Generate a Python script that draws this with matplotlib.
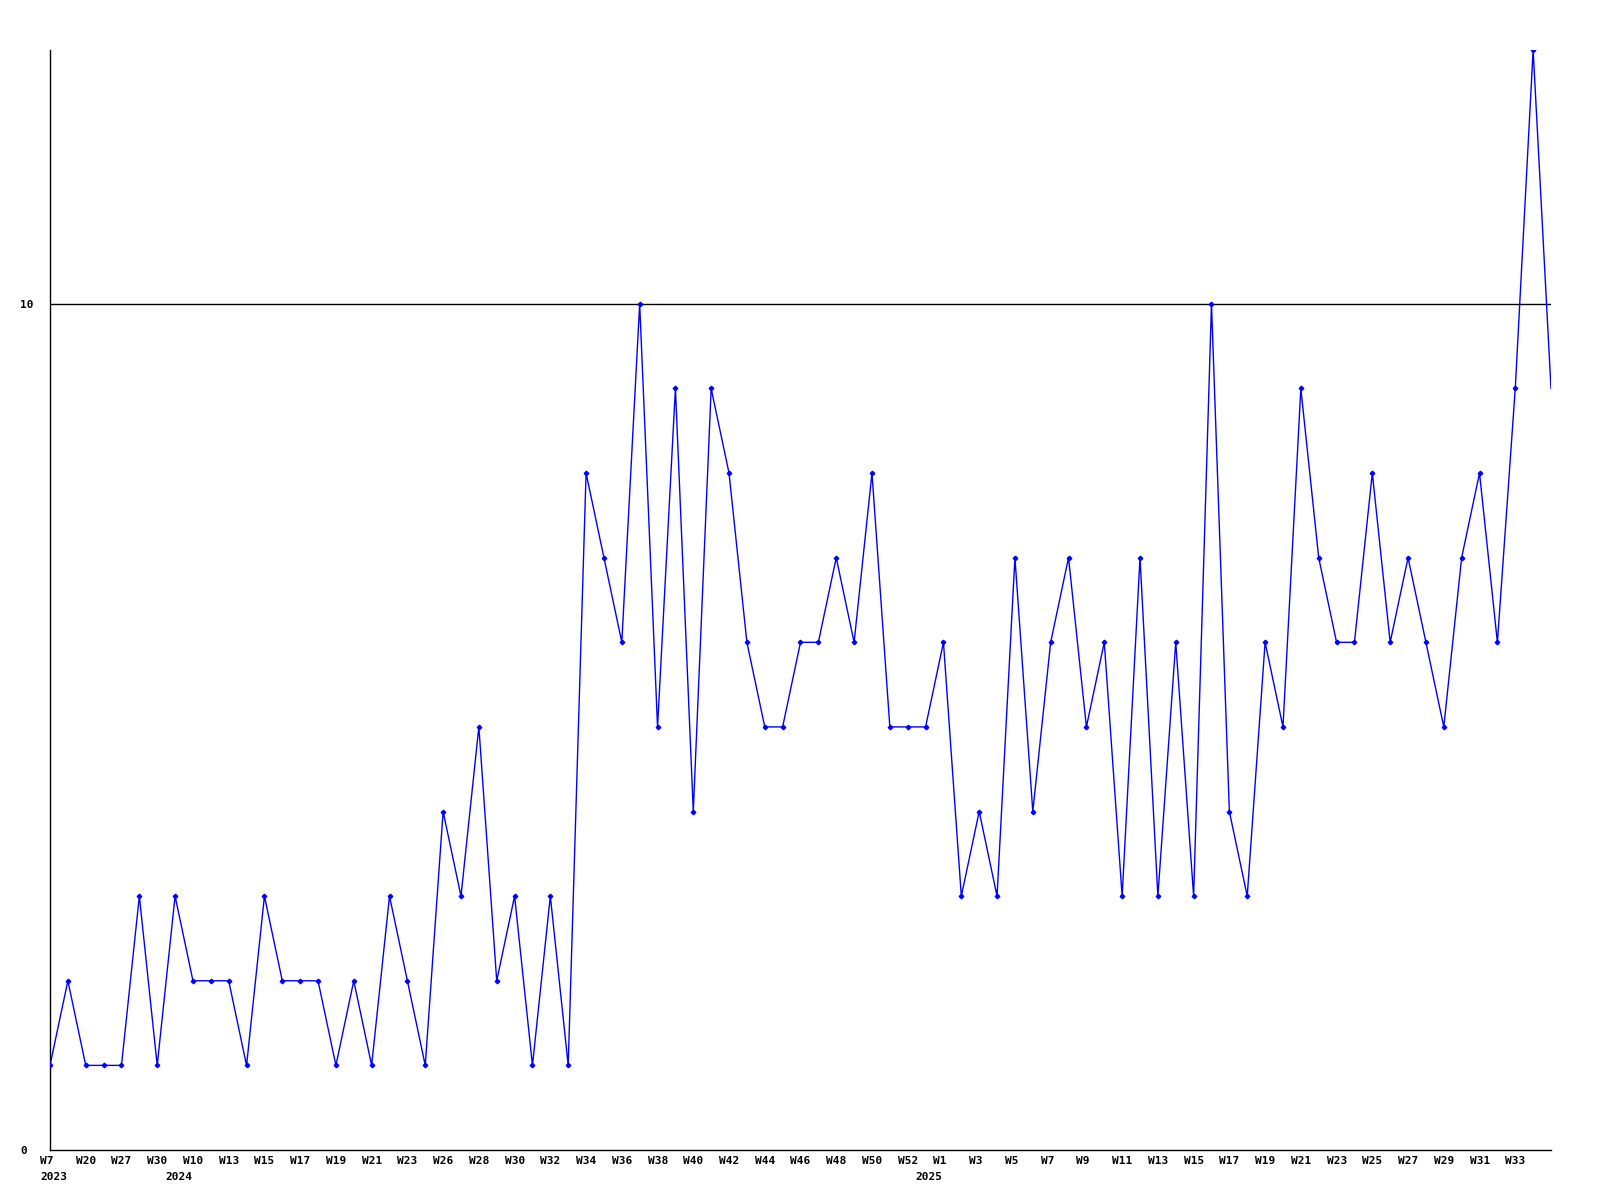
import matplotlib
matplotlib.use("Agg")
import matplotlib.pyplot as plt
from matplotlib.transforms import ScaledTranslation

# weekly counts, one value per data point
values = [1, 2, 1, 1, 1, 3, 1, 3, 2, 2, 2, 1, 3, 2, 2, 2, 1, 2, 1, 3,
          2, 1, 4, 3, 5, 2, 3, 1, 3, 1, 8, 7, 6, 10, 5, 9, 4, 9, 8, 6,
          5, 5, 6, 6, 7, 6, 8, 5, 5, 5, 6, 3, 4, 3, 7, 4, 6, 7, 5, 6,
          3, 7, 3, 6, 3, 10, 4, 3, 6, 5, 9, 7, 6, 6, 8, 6, 7, 6, 5, 7,
          8, 6, 9, 13, 9]

# labels shown on every second point
week_labels = ["W7", "W20", "W27", "W30", "W10", "W13", "W15", "W17", "W19", "W21",
               "W23", "W26", "W28", "W30", "W32", "W34", "W36", "W38", "W40", "W42",
               "W44", "W46", "W48", "W50", "W52", "W1", "W3", "W5", "W7", "W9",
               "W11", "W13", "W15", "W17", "W19", "W21", "W23", "W25", "W27", "W29",
               "W31", "W33"]

# first point of each year
years = ["2023", "2024", "2025"]
year_start = [0, 7, 49]

x = list(range(len(values)))

fig = plt.figure(figsize=(16, 12), dpi=100)
ax = fig.add_axes([50 / 1600, 50 / 1200, 1501 / 1600, 1100 / 1200])

ax.plot(x, values, color="#0000ff", linewidth=1.0, marker="D",
        markersize=2.3, markevery=list(range(len(values) - 1)), zorder=3)
ax.axhline(10, color="black", linewidth=1.0, zorder=2)

ax.set_xlim(0, len(values) - 1)
ax.set_ylim(0, 13)

for s in ["top", "right"]:
    ax.spines[s].set_visible(False)
for s in ["left", "bottom"]:
    ax.spines[s].set_linewidth(1.0)
    ax.spines[s].set_color("black")

font = dict(fontfamily="DejaVu Sans Mono", fontweight="bold", fontsize=8)
shift = ScaledTranslation(-10 / 100, 0, fig.dpi_scale_trans)

# week labels on every second point
ax.set_xticks(x[::2][:len(week_labels)])
ax.set_xticklabels(week_labels, **font)
ax.tick_params(axis="x", which="major", length=0, pad=4)

# year labels on a second row
ax.xaxis.remove_overlapping_locs = False
ax.set_xticks(year_start, minor=True)
ax.set_xticklabels(years, minor=True, **font)
ax.tick_params(axis="x", which="minor", length=0, pad=15.5)

for lab in ax.get_xticklabels() + ax.get_xticklabels(minor=True):
    lab.set_ha("left")
    lab.set_transform(lab.get_transform() + shift)

ax.set_yticks([0, 10])
ax.set_yticklabels(["0", "10"], **font)
ax.tick_params(axis="y", length=0, pad=0)
for lab in ax.get_yticklabels():
    lab.set_ha("left")
    lab.set_transform(lab.get_transform() + ScaledTranslation(-30 / 100, 0, fig.dpi_scale_trans))

fig.savefig("out.png", dpi=100, facecolor="white")
